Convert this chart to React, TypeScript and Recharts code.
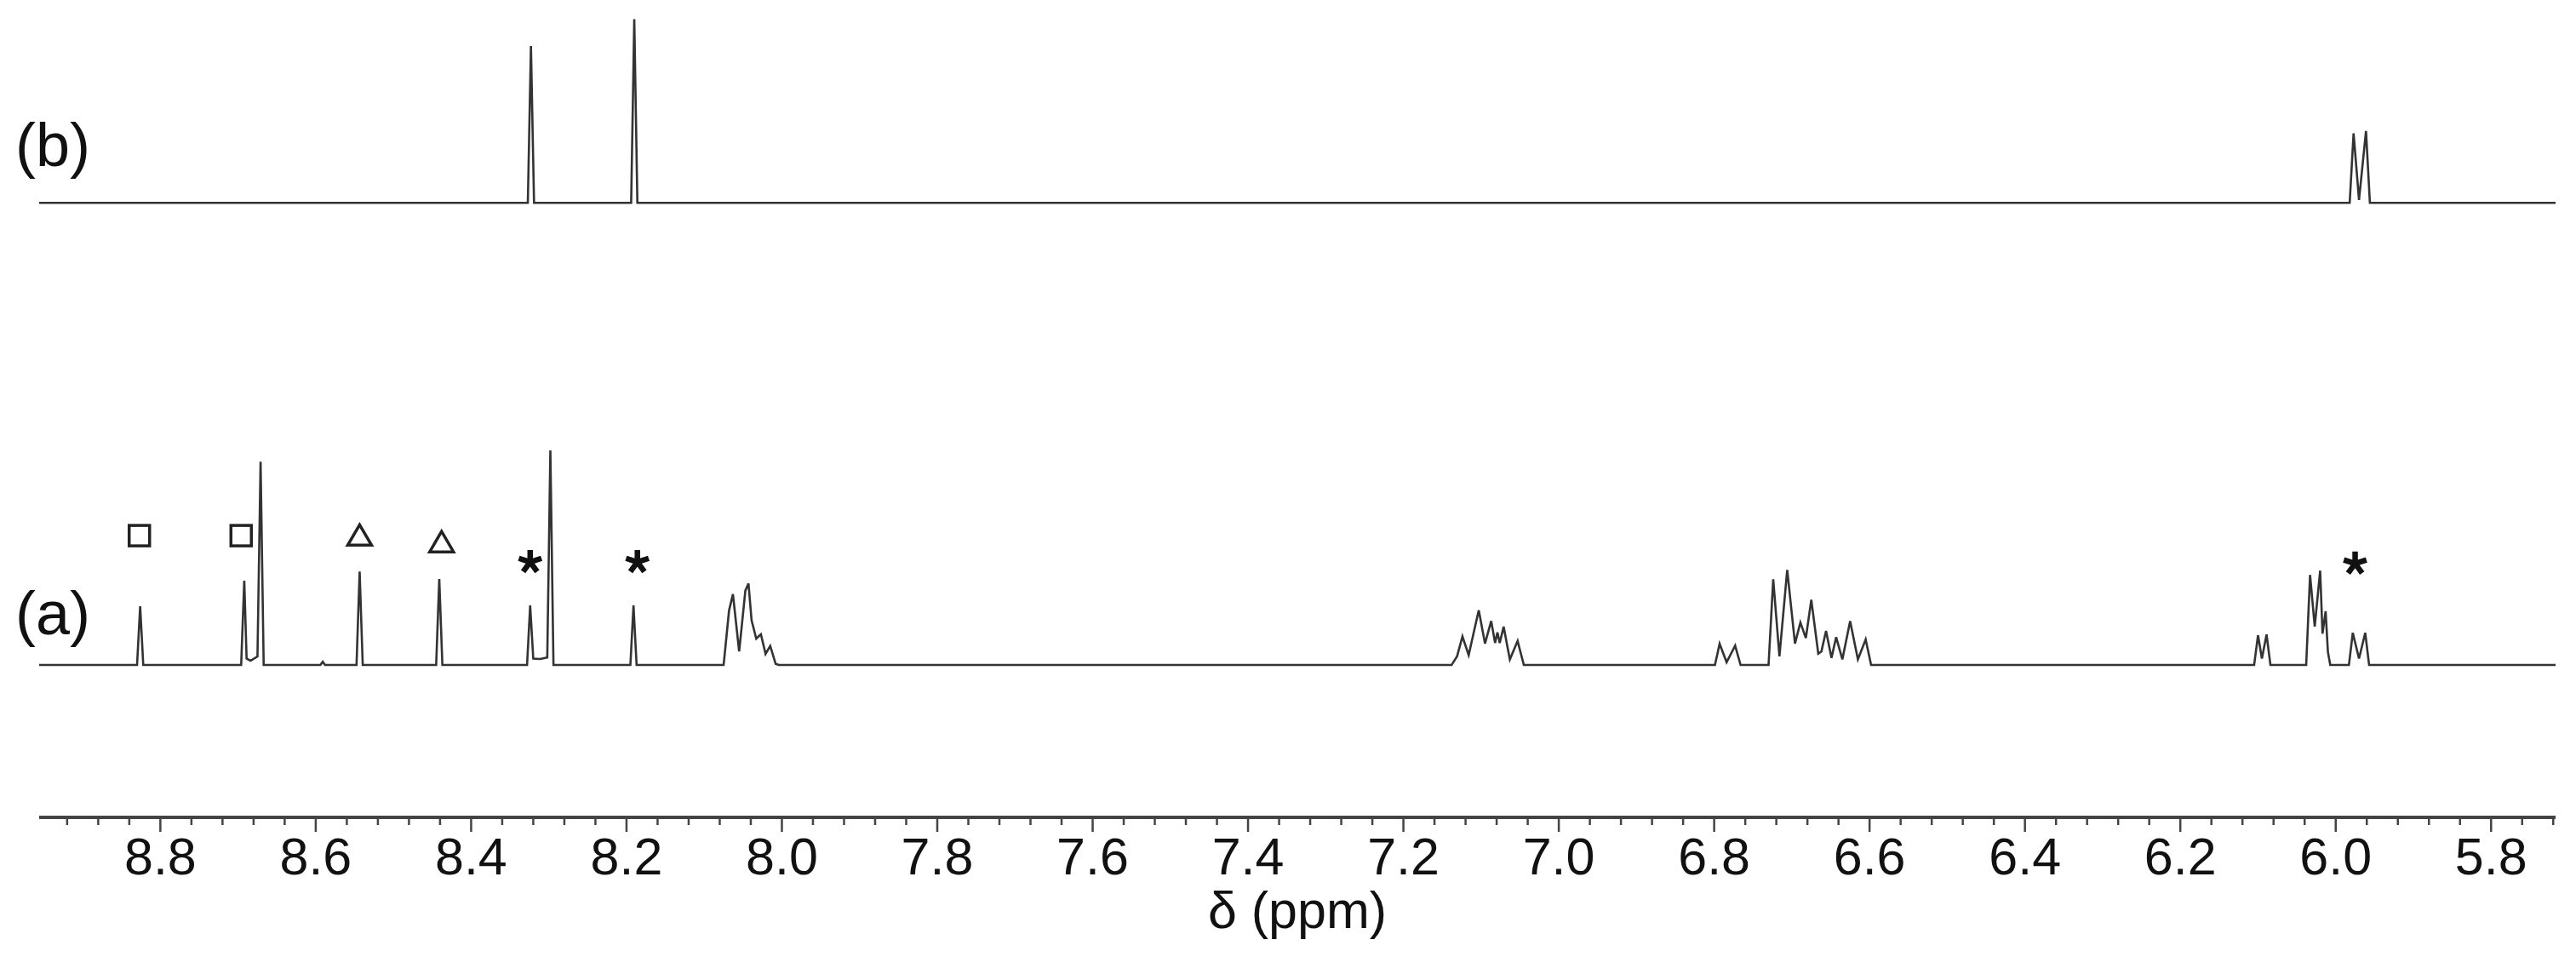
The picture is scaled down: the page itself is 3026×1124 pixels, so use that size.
import { ComposedChart, Line, Scatter, XAxis, YAxis } from 'recharts'

// spectrum (a): [δ / ppm, intensity], tallest line (8.30) = 100
const traceA1: [number, number][] = [
  [8.956, 0],
  [8.830, 0], [8.826, 27.4], [8.822, 0],
  [8.696, 0], [8.692, 39.3], [8.689, 3.0], [8.684, 2.0], [8.675, 4.0], [8.671, 94.8], [8.667, 0],
  [8.594, 0], [8.591, 1.5], [8.588, 0],
  [8.5475, 0], [8.5435, 43.6], [8.5395, 0],
  [8.445, 0], [8.441, 40.1], [8.437, 0],
  [8.328, 0], [8.324, 27.8], [8.320, 3.0], [8.311, 2.8], [8.302, 3.5], [8.298, 100], [8.294, 0],
  [8.195, 0], [8.191, 27.8], [8.187, 0],
]
const traceA2: [number, number][] = [
  [8.075, 0], [8.068, 25.4], [8.063, 33.0], [8.055, 6.3], [8.047, 34.7],
  [8.043, 38.0], [8.039, 20.8], [8.033, 12.3], [8.027, 14.3], [8.021, 5.2],
  [8.015, 8.9], [8.008, 0.5], [8.004, 0],
]
const traceA3: [number, number][] = [
  [7.138, 0], [7.131, 4.0], [7.124, 13.3], [7.116, 4.6], [7.107, 19.2],
  [7.103, 25.5], [7.095, 10.0], [7.087, 20.5], [7.082, 10.3], [7.079, 15.2],
  [7.076, 10.3], [7.071, 17.9], [7.063, 2.6], [7.053, 11.2], [7.045, 0],
]
const traceA4: [number, number][] = [
  [6.799, 0], [6.793, 9.9], [6.784, 1.3], [6.773, 9.0], [6.766, 0],
  [6.730, 0], [6.724, 40.0], [6.716, 4.0], [6.706, 44.3], [6.696, 10.0],
  [6.689, 19.8], [6.682, 12.6], [6.675, 30.4], [6.666, 5.3], [6.662, 6.3],
  [6.656, 15.9], [6.649, 3.3], [6.643, 13.0], [6.635, 2.6], [6.625, 20.5],
  [6.615, 2.6], [6.605, 11.9], [6.598, 0],
]
const traceA5: [number, number][] = [
  [6.105, 0], [6.100, 13.9], [6.095, 3.0], [6.089, 14.2], [6.084, 0],
  [6.038, 0], [6.033, 42.0], [6.027, 17.9], [6.020, 44.0], [6.017, 14.6],
  [6.013, 25.1], [6.010, 6.0], [6.007, 0],
  [5.983, 0], [5.978, 15.0], [5.970, 3.0], [5.962, 15.0], [5.957, 0],
  [5.717, 0],
]

// spectrum (b)
const traceB: [number, number][] = [
  [8.956, 0],
  [8.327, 0], [8.323, 73.1], [8.319, 0],
  [8.194, 0], [8.190, 85.6], [8.186, 0],
  [5.982, 0], [5.977, 32.4], [5.970, 1.3], [5.961, 33.5], [5.956, 0],
  [5.717, 0],
]

// peak markers above spectrum (a)
const squareMarks: [number, number][] = [[8.827, 60.3], [8.696, 60.3]]
const triangleMarks: [number, number][] = [[8.5435, 60.6], [8.438, 57.5]]
const starMarks: [number, number][] = [[8.324, 48.0], [8.186, 48.0], [5.975, 47.3]]

const tickLabels = ['8.8', '8.6', '8.4', '8.2', '8.0', '7.8', '7.6', '7.4', '7.2', '7.0', '6.8', '6.6', '6.4', '6.2', '6.0', '5.8']

const FONT = '"Liberation Sans", Arial, Helvetica, sans-serif'
const INK = '#333'

const toRows = (pts: [number, number][]) => pts.map(([ppm, h]) => ({ ppm, h }))
const dataA = toRows([...traceA1, ...traceA2, ...traceA3, ...traceA4, ...traceA5])
const dataB = toRows(traceB)

// minor ticks every 0.04 ppm, labelled majors every 0.2
const ticks: number[] = []
for (let i = 0; i <= 80; i++) ticks.push(+(8.92 - 0.04 * i).toFixed(2))
const majors = tickLabels.map(Number)

function PpmTick(props: any) {
  const { x, y, payload } = props
  const v = payload.value as number
  const major = majors.some((m) => Math.abs(m - v) < 1e-6)
  return (
    <g>
      <line x1={x} x2={x} y1={y} y2={y + (major ? 17 : 9)} stroke="#444" strokeWidth={2.5} />
      {major && (
        <text x={x} y={y + 67} textAnchor="middle" fontSize={61} fill="#111" fontFamily={FONT}>
          {v.toFixed(1)}
        </text>
      )}
    </g>
  )
}

function Square(props: any) {
  const { cx, cy } = props
  return <rect x={cx - 12} y={cy - 12} width={24} height={24} fill="none" stroke="#222" strokeWidth={3.5} />
}

function Triangle(props: any) {
  const { cx, cy } = props
  return (
    <polygon
      points={`${cx},${cy - 12} ${cx - 14},${cy + 12} ${cx + 14},${cy + 12}`}
      fill="none"
      stroke="#222"
      strokeWidth={3.5}
    />
  )
}

function Star(props: any) {
  const { cx, cy } = props
  const arms = [-90, -18, 54, 126, 198].map((deg) => {
    const r = (deg * Math.PI) / 180
    return `M${cx},${cy} L${cx + 14 * Math.cos(r)},${cy + 14 * Math.sin(r)}`
  })
  return <path d={arms.join(' ')} stroke="#111" strokeWidth={6.5} fill="none" />
}

const marks = (pts: [number, number][]) => pts.map(([ppm, y]) => ({ ppm, y }))

export default function App() {
  return (
    <div style={{ position: 'absolute', left: 0, top: 0, width: 3026, height: 1124, background: '#fff' }}>
      <ComposedChart
        width={3026}
        height={1124}
        margin={{ top: 20, right: 24, left: 46, bottom: 0 }}
      >
        <XAxis
          type="number"
          dataKey="ppm"
          domain={[5.717, 8.956]}
          allowDataOverflow
          reversed
          ticks={ticks}
          interval={0}
          tick={<PpmTick />}
          tickLine={false}
          tickSize={0}
          tickMargin={0}
          height={164}
          axisLine={{ stroke: '#444', strokeWidth: 4 }}
          label={{
            value: 'δ (ppm)',
            position: 'insideBottom',
            offset: 34,
            fontSize: 61,
            fill: '#111',
            fontFamily: FONT,
          }}
        />
        <YAxis yAxisId="a" hide type="number" domain={[-71, 302]} allowDataOverflow />
        <YAxis yAxisId="b" hide type="number" domain={[-286.4, 86.6]} allowDataOverflow />
        <Line
          yAxisId="b"
          data={dataB}
          dataKey="h"
          type="linear"
          stroke={INK}
          strokeWidth={2.6}
          dot={false}
          activeDot={false}
          isAnimationActive={false}
        />
        <Line
          yAxisId="a"
          data={dataA}
          dataKey="h"
          type="linear"
          stroke={INK}
          strokeWidth={2.6}
          dot={false}
          activeDot={false}
          isAnimationActive={false}
        />
        <Scatter yAxisId="a" data={marks(squareMarks)} dataKey="y" shape={<Square />} isAnimationActive={false} />
        <Scatter yAxisId="a" data={marks(triangleMarks)} dataKey="y" shape={<Triangle />} isAnimationActive={false} />
        <Scatter yAxisId="a" data={marks(starMarks)} dataKey="y" shape={<Star />} isAnimationActive={false} />
      </ComposedChart>
      <svg width={3026} height={1124} style={{ position: 'absolute', left: 0, top: 0, pointerEvents: 'none' }}>
        <text x={18} y={195} fontSize={72} fill="#111" fontFamily={FONT}>(b)</text>
        <text x={18} y={745} fontSize={72} fill="#111" fontFamily={FONT}>(a)</text>
      </svg>
    </div>
  )
}
